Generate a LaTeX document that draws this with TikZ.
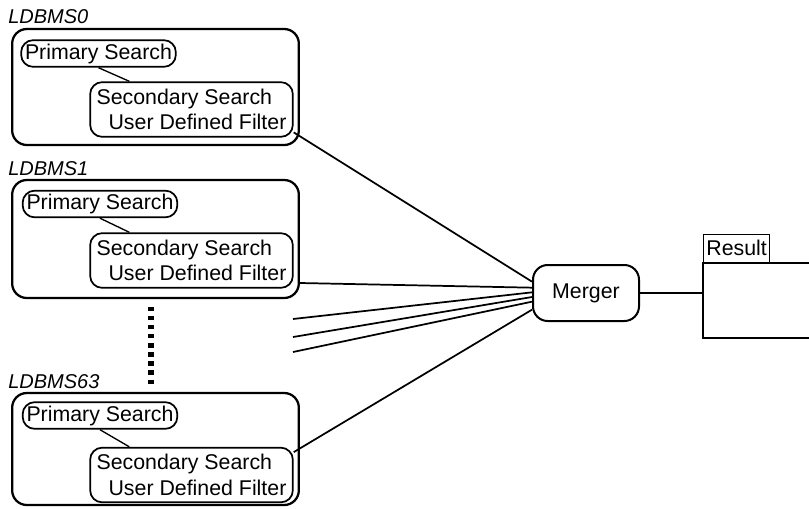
\documentclass[tikz,border=0pt]{standalone}
\usepackage{fontspec}
\setmainfont{Liberation Sans}
\usetikzlibrary{calc}

\begin{document}
\begin{tikzpicture}[x=0.75pt, y=-0.75pt,
        dbbox/.style = {draw, line width=1.7pt, rounded corners=11pt,
            minimum width=215pt},
        prim/.style = {draw, line width=1.3pt, rounded corners=9pt,
            minimum width=116pt, minimum height=20pt, inner sep=0pt,
            font=\fontsize{16}{19}\selectfont},
        sec/.style = {draw, line width=1.3pt, rounded corners=9pt,
            minimum width=152pt, minimum height=41pt, inner sep=0pt,
            align=left, font=\fontsize{16}{19}\selectfont},
        dbname/.style = {anchor=base west, inner sep=0pt,
            font=\fontsize{15}{18}\selectfont\itshape},
        wire/.style = {line width=1.3pt}]
        \useasboundingbox (0, 0) rectangle (809, 508);
        % local DBMS boxes
        \node [dbbox, minimum height=87pt] (db0) at (155.5, 87) {};
        \node [dbbox, minimum height=88.5pt] (db1) at (155.5, 239) {};
        \node [dbbox, minimum height=84pt] (db63) at (155.5, 449) {};
        \node [dbname] (name0) at (8, 23) {LDBMS0};
        \node [dbname] (name1) at (8, 175) {LDBMS1};
        \node [dbname] (name63) at (8, 388) {LDBMS63};
        % searches
        \node [prim] (prim0) at (98.5, 53.5) {Primary Search};
        \node [prim] (prim1) at (100, 204) {Primary Search};
        \node [prim] (prim63) at (100, 415.5) {Primary Search};
        \node [sec] (sec0) at (191.5, 109.5) {Secondary Search\\\hspace*{9pt}User Defined Filter};
        \node [sec] (sec1) at (191.5, 260.5) {Secondary Search\\\hspace*{9pt}User Defined Filter};
        \node [sec] (sec63) at (191.5, 475) {Secondary Search\\\hspace*{9pt}User Defined Filter};
        \draw [line width=1pt] (prim0.south) -- ([xshift=30pt]sec0.north west);
        \draw [line width=1pt] (prim1.south) -- ([xshift=30pt]sec1.north west);
        \draw [line width=1pt] (prim63.south) -- ([xshift=30pt]sec63.north west);
        % the dots
        \coordinate (dotstop) at (151, 307);
        \coordinate (dotsbot) at (151, 386);
        \draw [line width=4.5pt, dash pattern=on 3.2pt off 3.6pt] (dotstop) -- (dotsbot);
        % merger
        \node [draw, line width=1.5pt, rounded corners=11pt, minimum width=79.5pt,
            minimum height=42pt, font=\fontsize{16}{19}\selectfont] (merger) at (586, 293) {Merger};
        \coordinate (loose1) at (293, 319);
        \coordinate (loose2) at (293, 337);
        \coordinate (loose3) at (293, 352);
        \draw [wire] ([yshift=4pt]sec0.south east) -- ([yshift=8.5pt]merger.west);
        \draw [wire] ([yshift=-33pt]db1.east) -- ([yshift=4pt]merger.west);
        \draw [wire] (loose1) -- ([yshift=0.5pt]merger.west);
        \draw [wire] (loose2) -- ([yshift=-3pt]merger.west);
        \draw [wire] (loose3) -- ([yshift=-6.5pt]merger.west);
        \draw [wire] ([yshift=-4pt]sec63.north east) -- ([yshift=-12.5pt]merger.west);
        % result
        \node [draw, line width=1.1pt, anchor=south west, minimum height=21pt,
            inner xsep=2pt, inner ysep=0pt, font=\fontsize{16}{19}\selectfont] (result) at (703, 263) {Result};
        \coordinate (restr) at (809, 263);
        \coordinate (resbl) at (703, 338);
        \coordinate (resbr) at (809, 338);
        \draw [line width=1.1pt] (restr) -- (result.south west) -- (resbl) -- (resbr);
        \draw [wire] (merger.east) -- (merger.east -| result.west);
    \end{tikzpicture}
\end{document}
